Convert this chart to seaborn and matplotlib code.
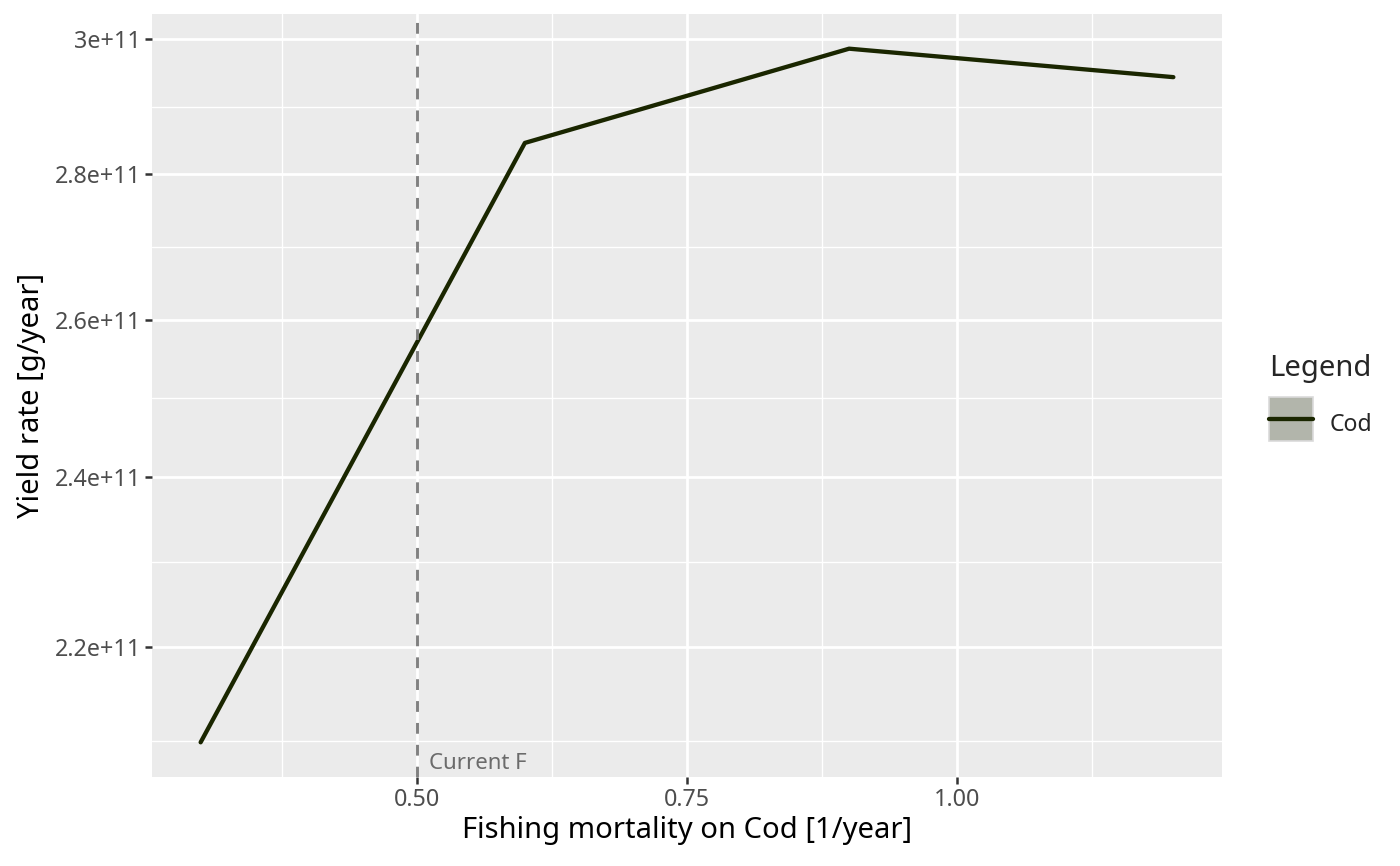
import numpy as np
import pandas as pd
import matplotlib
matplotlib.use("Agg")
import matplotlib.pyplot as plt
import seaborn as sns
from matplotlib.legend_handler import HandlerLine2D
from matplotlib.patches import Rectangle
from matplotlib.lines import Line2D
from matplotlib.ticker import FixedLocator, FixedFormatter, NullFormatter
import matplotlib.transforms as mtransforms

# datos
fishing_mort = [0.3, 0.6, 0.9, 1.2]
yield_rate = [2.096e11, 2.845e11, 2.985e11, 2.942e11]
species = ["Cod", "Cod", "Cod", "Cod"]
current_f = 0.5

y_breaks = [2.2e11, 2.4e11, 2.6e11, 2.8e11, 3.0e11]
y_labels = ["2.2e+11", "2.4e+11", "2.6e+11", "2.8e+11", "3e+11"]
x_breaks = [0.5, 0.75, 1.0]
x_labels = ["0.50", "0.75", "1.00"]

line_col = "#1a2600"

df = pd.DataFrame({"F": fishing_mort, "Yield": yield_rate, "Species": species})

# estilo tipo ggplot
sns.set_style("darkgrid", {
    "axes.facecolor": "#EBEBEB",
    "grid.color": "white",
    "axes.edgecolor": "#EBEBEB",
})
plt.rcParams["font.family"] = ["Noto Sans", "DejaVu Sans"]

fig = plt.figure(figsize=(14, 8.66), dpi=100)
fig.subplots_adjust(left=152 / 1400, right=1222 / 1400, bottom=1 - 777 / 866, top=1 - 14 / 866)
ax = fig.add_subplot(111)

sns.lineplot(data=df, x="F", y="Yield", hue="Species", palette=[line_col],
             linewidth=3.1, ax=ax, legend=False)
ax.set_yscale("log")

# limites con 5% de expansion (como ggplot)
xr = max(fishing_mort) - min(fishing_mort)
ax.set_xlim(min(fishing_mort) - 0.05 * xr, max(fishing_mort) + 0.05 * xr)
ly = np.log(yield_rate)
lr = ly.max() - ly.min()
ax.set_ylim(np.exp(ly.min() - 0.05 * lr), np.exp(ly.max() + 0.05 * lr))

# ticks
ax.yaxis.set_major_locator(FixedLocator(y_breaks))
ax.yaxis.set_major_formatter(FixedFormatter(y_labels))
all_y = [2.0e11] + y_breaks + [3.2e11]
ax.yaxis.set_minor_locator(FixedLocator([np.sqrt(a * b) for a, b in zip(all_y[:-1], all_y[1:])]))
ax.yaxis.set_minor_formatter(NullFormatter())
ax.xaxis.set_major_locator(FixedLocator(x_breaks))
ax.xaxis.set_major_formatter(FixedFormatter(x_labels))
all_x = [0.25] + x_breaks + [1.25]
ax.xaxis.set_minor_locator(FixedLocator([(a + b) / 2 for a, b in zip(all_x[:-1], all_x[1:])]))

ax.grid(which="major", color="white", linewidth=2.0)
ax.grid(which="minor", color="white", linewidth=1.0)
ax.tick_params(which="major", length=5, width=1.8, color="#333333", labelcolor="#4d4d4d",
               labelsize=16.8, pad=3, bottom=True, left=True)
ax.tick_params(which="minor", length=0)
for s in ax.spines.values():
    s.set_visible(False)

ax.set_xlabel("Fishing mortality on Cod [1/year]", fontsize=21, color="black", labelpad=3)
ax.set_ylabel("Yield rate [g/year]", fontsize=21, color="black", labelpad=6)

# linea de F actual
ax.axvline(current_f, color="#808080", linewidth=2.1, linestyle=(0, (3.7, 3.8)))
trans = mtransforms.blended_transform_factory(ax.transData, ax.transAxes)
ax.text(current_f + 0.011, 0.018, "Current F", transform=trans, color="#6b6b6b",
        fontsize=16, ha="left", va="center")


# leyenda con fondo gris en la clave (cuadrado)
class KeyHandler(HandlerLine2D):
    def create_artists(self, legend, orig_handle, xdescent, ydescent, width, height, fontsize, trans):
        yc = (height - ydescent) / 2.0
        bg = Rectangle((-xdescent, yc - width / 2.0), width, width, facecolor="#b2b5ab",
                       edgecolor="#dadada", linewidth=1.2, transform=trans)
        arts = super().create_artists(legend, orig_handle, xdescent, ydescent, width, height, fontsize, trans)
        return [bg] + arts


h = Line2D([], [], color=line_col, linewidth=3.1)
leg = fig.legend([h], ["Cod"], title="Legend", loc="upper left",
                 bbox_to_anchor=(1269 / 1400, 1 - 354 / 866), frameon=False,
                 fontsize=16.6, title_fontsize=21, handlelength=1.9, handleheight=1.9,
                 handletextpad=0.75, borderaxespad=0, borderpad=0, labelspacing=1.02,
                 handler_map={Line2D: KeyHandler()})
leg._legend_box.align = "left"

fig.savefig("out.png", dpi=100)
